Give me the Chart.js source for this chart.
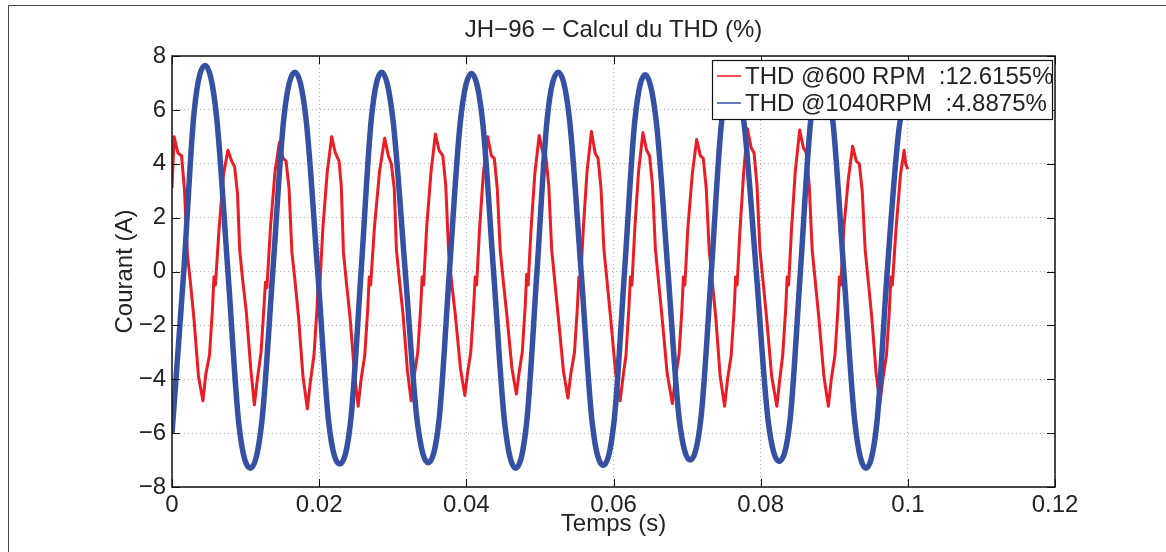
<!DOCTYPE html>
<html>
<head>
<meta charset="utf-8">
<script src="https://cdn.jsdelivr.net/npm/chart.js@4.4.1/dist/chart.umd.min.js"></script>
<style>
  html, body { margin: 0; padding: 0; background: #fff; }
  canvas { display: block; }
</style>
</head>
<body>
<canvas id="thdChart" width="1166" height="552"></canvas>
<script>
const chartTitle = "JH\u221296 \u2212 Calcul du THD (%)";
const xLabel = "Temps (s)";
const yLabel = "Courant (A)";
const xTickValues = [0, 0.02, 0.04, 0.06, 0.08, 0.1, 0.12];
const yTickValues = [-8, -6, -4, -2, 0, 2, 4, 6, 8];
const seriesLabels = ["THD @600 RPM  :12.6155%", "THD @1040RPM  :4.8875%"];

// 600 RPM current (red), time in s / current in A
const redT = [
  0, 0.0003, 0.0008, 0.0013, 0.0017, 0.0021, 0.0025, 0.0030, 0.0036, 0.0042,
  0.0046, 0.0051, 0.0055, 0.0057, 0.0059, 0.0064, 0.0070, 0.0076,
  0.0081, 0.0085, 0.0089, 0.0092, 0.0096, 0.0101, 0.0107, 0.0112,
  0.0116, 0.0121, 0.0125, 0.0127, 0.0129, 0.0134, 0.0140, 0.0146,
  0.0151, 0.0155, 0.0159, 0.0163, 0.0167, 0.0172, 0.0178, 0.0184,
  0.0188, 0.0193, 0.0197, 0.0199, 0.0201, 0.0205, 0.0211, 0.0217,
  0.0222, 0.0227, 0.0230, 0.0233, 0.0237, 0.0242, 0.0248, 0.0253,
  0.0257, 0.0262, 0.0266, 0.0268, 0.0270, 0.0275, 0.0282, 0.0289,
  0.0294, 0.0298, 0.0302, 0.0305, 0.0309, 0.0314, 0.0320, 0.0325,
  0.0329, 0.0334, 0.0338, 0.0340, 0.0342, 0.0346, 0.0352, 0.0358,
  0.0363, 0.0368, 0.0372, 0.0376, 0.0380, 0.0385, 0.0392, 0.0398,
  0.0402, 0.0406, 0.0410, 0.0412, 0.0414, 0.0418, 0.0423, 0.0429,
  0.0434, 0.0438, 0.0442, 0.0446, 0.0450, 0.0455, 0.0462, 0.0468,
  0.0472, 0.0476, 0.0480, 0.0482, 0.0484, 0.0488, 0.0493, 0.0499,
  0.0504, 0.0508, 0.0512, 0.0516, 0.0520, 0.0525, 0.0532, 0.0538,
  0.0542, 0.0547, 0.0551, 0.0553, 0.0555, 0.0559, 0.0564, 0.0570,
  0.0575, 0.0579, 0.0583, 0.0587, 0.0591, 0.0596, 0.0603, 0.0609,
  0.0613, 0.0617, 0.0621, 0.0623, 0.0625, 0.0629, 0.0634, 0.0640,
  0.0645, 0.0649, 0.0653, 0.0657, 0.0661, 0.0666, 0.0673, 0.0680,
  0.0684, 0.0689, 0.0693, 0.0695, 0.0697, 0.0701, 0.0707, 0.0713,
  0.0718, 0.0722, 0.0726, 0.0730, 0.0734, 0.0739, 0.0745, 0.0751,
  0.0755, 0.0760, 0.0764, 0.0766, 0.0768, 0.0772, 0.0777, 0.0782,
  0.0787, 0.0791, 0.0795, 0.0799, 0.0803, 0.0808, 0.0815, 0.0822,
  0.0826, 0.0830, 0.0834, 0.0836, 0.0838, 0.0842, 0.0847, 0.0853,
  0.0858, 0.0862, 0.0866, 0.0870, 0.0874, 0.0879, 0.0886, 0.0892,
  0.0896, 0.0901, 0.0905, 0.0907, 0.0909, 0.0913, 0.0919, 0.0925,
  0.0930, 0.0934, 0.0938, 0.0942, 0.0946, 0.0951, 0.0957, 0.0962,
  0.0966, 0.0971, 0.0975, 0.0977, 0.0979, 0.0984, 0.0990, 0.0995, 0.0997, 0.1000
];
const redV = [
  3.1, 5.0, 4.4, 4.3, 3.0, 0.6, -0.4, -1.8, -3.9, -4.8,
  -3.8, -3.1, -1.4, -0.2, -0.5, 1.6, 3.6, 4.5,
  4.1, 3.9, 2.9, 0.8, -0.3, -1.5, -3.6, -4.95,
  -4.0, -3.0, -1.3, -0.4, -0.6, 1.7, 3.7, 4.8,
  4.2, 4.1, 3.1, 0.7, -0.3, -1.7, -3.9, -5.1,
  -4.1, -3.1, -1.4, -0.2, -0.5, 1.6, 3.7, 5.0,
  4.4, 4.1, 3.2, 0.7, -0.4, -1.7, -3.8, -5.0,
  -4.0, -3.1, -1.4, -0.2, -0.5, 1.6, 3.7, 4.95,
  4.3, 4.0, 3.1, 0.8, -0.3, -1.6, -3.7, -4.8,
  -3.9, -3.0, -1.3, -0.2, -0.5, 1.6, 3.7, 5.1,
  4.5, 4.3, 3.2, 0.7, -0.4, -1.6, -3.6, -4.6,
  -3.7, -3.0, -1.3, -0.2, -0.5, 1.6, 3.6, 5.0,
  4.3, 4.2, 3.1, 0.8, -0.3, -1.6, -3.6, -4.55,
  -3.7, -3.0, -1.3, -0.1, -0.5, 1.6, 3.6, 5.05,
  4.4, 4.3, 3.2, 0.8, -0.3, -1.7, -3.7, -4.7,
  -3.8, -3.0, -1.3, -0.2, -0.5, 1.6, 3.7, 5.2,
  4.4, 4.2, 3.1, 0.8, -0.3, -1.7, -3.8, -4.8,
  -3.9, -3.1, -1.3, -0.2, -0.5, 1.6, 3.7, 5.15,
  4.5, 4.3, 3.2, 0.8, -0.3, -1.7, -3.8, -4.9,
  -4.0, -3.1, -1.4, -0.2, -0.5, 1.6, 3.6, 4.9,
  4.3, 4.2, 3.1, 0.8, -0.3, -1.7, -3.9, -5.0,
  -4.0, -3.1, -1.4, -0.2, -0.5, 1.6, 3.7, 5.3,
  4.6, 4.4, 3.2, 0.8, -0.3, -1.7, -3.9, -5.0,
  -4.0, -3.1, -1.4, -0.2, -0.5, 1.6, 3.7, 5.25,
  4.6, 4.4, 3.2, 0.8, -0.3, -1.7, -3.9, -5.0,
  -4.0, -3.1, -1.4, -0.2, -0.5, 1.6, 3.4, 4.65,
  4.1, 4.0, 3.0, 0.8, -0.3, -1.7, -3.8, -4.9,
  -4.0, -3.1, -1.4, -0.2, -0.5, 1.6, 3.6, 4.5, 4.0, 3.8
];

// 1040 RPM current (blue)
const blueT = [
  0.0000, 0.0016, 0.0030, 0.0045, 0.0060, 0.0076, 0.0091, 0.01065, 0.0122, 0.0137,
  0.0152, 0.0167, 0.0182, 0.0198, 0.0213, 0.0228, 0.0243, 0.0257, 0.0271, 0.0285,
  0.0300, 0.0317, 0.0333, 0.0348, 0.0363, 0.0377, 0.0392, 0.0407, 0.0422, 0.0437,
  0.0452, 0.0467, 0.0482, 0.0496, 0.0510, 0.0525, 0.0540, 0.0556, 0.0571, 0.0586,
  0.0601, 0.0615, 0.0629, 0.0643, 0.0658, 0.0674, 0.0689, 0.0704, 0.0719, 0.0733,
  0.0747, 0.0762, 0.0777, 0.0794, 0.0810, 0.0825, 0.0840, 0.0854, 0.0868, 0.0883,
  0.0898, 0.0913, 0.0928, 0.0943, 0.0958, 0.0972, 0.0988, 0.1000
];
const blueV = [
  -6.0, 0.0, 5.9, 7.65, 5.9, 0.0, -5.7, -7.3, -5.6, 0.0,
  5.7, 7.4, 5.7, 0.0, -5.6, -7.15, -5.5, 0.0, 5.7, 7.4,
  5.7, 0.0, -5.5, -7.1, -5.5, 0.0, 5.6, 7.35, 5.6, 0.0,
  -5.6, -7.3, -5.6, 0.0, 5.7, 7.4, 5.7, 0.0, -5.6, -7.2,
  -5.5, 0.0, 5.6, 7.3, 5.6, 0.0, -5.4, -7.0, -5.4, 0.0,
  5.6, 7.3, 5.6, 0.0, -5.5, -7.05, -5.5, 0.0, 5.6, 7.3,
  5.6, 0.0, -5.6, -7.3, -5.6, 0.0, 5.3, 6.7
];

const redColor = "#ec1c24";
const blueColor = "#3651a3";
const fontFamily = "'Liberation Sans', Arial, Helvetica, sans-serif";
const textColor = "#222";

Chart.defaults.font.family = fontFamily;
Chart.defaults.font.size = 24;
Chart.defaults.color = textColor;

const toPoints = (ts, vs) => ts.map((t, i) => ({ x: t, y: vs[i] }));
const minusSign = v => (v < 0 ? "\u2212" + Math.abs(v) : String(v));

const matlabFrame = {
  id: "matlabFrame",
  afterDraw(chart) {
    const { ctx, chartArea: a, scales } = chart;
    ctx.save();

    // figure border
    ctx.strokeStyle = "#444";
    ctx.lineWidth = 1;
    ctx.beginPath();
    ctx.moveTo(8.5, chart.height);
    ctx.lineTo(8.5, 5.5);
    ctx.lineTo(chart.width, 5.5);
    ctx.stroke();

    // axes box with inward ticks
    ctx.strokeStyle = "#111";
    ctx.lineWidth = 1.5;
    ctx.strokeRect(a.left, a.top, a.right - a.left, a.bottom - a.top);
    ctx.lineWidth = 1;
    ctx.beginPath();
    xTickValues.forEach(v => {
      const px = Math.round(scales.x.getPixelForValue(v)) + 0.5;
      ctx.moveTo(px, a.top); ctx.lineTo(px, a.top + 8);
      ctx.moveTo(px, a.bottom); ctx.lineTo(px, a.bottom - 8);
    });
    yTickValues.forEach(v => {
      const py = Math.round(scales.y.getPixelForValue(v)) + 0.5;
      ctx.moveTo(a.left, py); ctx.lineTo(a.left + 8, py);
      ctx.moveTo(a.right, py); ctx.lineTo(a.right - 8, py);
    });
    ctx.stroke();

    // title
    ctx.fillStyle = textColor;
    ctx.font = "24px " + fontFamily;
    ctx.textAlign = "center";
    ctx.textBaseline = "middle";
    ctx.fillText(chartTitle, (a.left + a.right) / 2, 30);

    // legend box
    const lw = 340, lh = 59;
    const lx = a.right - 3 - lw, ly = a.top + 4;
    ctx.fillStyle = "#fff";
    ctx.fillRect(lx, ly, lw, lh);
    ctx.strokeStyle = "#111";
    ctx.lineWidth = 1.2;
    ctx.strokeRect(lx + 0.5, ly + 0.5, lw, lh);
    const rows = [
      { text: seriesLabels[0], color: redColor },
      { text: seriesLabels[1], color: blueColor }
    ];
    ctx.textAlign = "left";
    rows.forEach((r, i) => {
      const ry = ly + 16 + i * 27;
      ctx.strokeStyle = r.color;
      ctx.lineWidth = 1.5;
      ctx.beginPath();
      ctx.moveTo(lx + 5, ry);
      ctx.lineTo(lx + 29, ry);
      ctx.stroke();
      ctx.fillStyle = textColor;
      ctx.fillText(r.text, lx + 33, ry + 1);
    });
    ctx.restore();
  }
};

new Chart(document.getElementById("thdChart"), {
  type: "line",
  data: {
    datasets: [
      {
        label: seriesLabels[0],
        data: toPoints(redT, redV),
        borderColor: redColor,
        borderWidth: 3,
        borderJoinStyle: "round",
        pointRadius: 0,
        tension: 0,
        order: 1
      },
      {
        label: seriesLabels[1],
        data: toPoints(blueT, blueV),
        borderColor: blueColor,
        borderWidth: 5.5,
        pointRadius: 0,
        cubicInterpolationMode: "monotone",
        order: 0
      }
    ]
  },
  options: {
    responsive: false,
    animation: false,
    layout: { padding: { top: 56, right: 111, left: 0, bottom: 0 } },
    plugins: {
      legend: { display: false },
      title: { display: false },
      tooltip: { enabled: false }
    },
    scales: {
      x: {
        type: "linear",
        min: 0,
        max: 0.12,
        afterBuildTicks: s => { s.ticks = xTickValues.map(v => ({ value: v })); },
        afterFit: s => { s.height = 65; },
        ticks: {
          padding: 4,
          maxRotation: 0,
          autoSkip: false,
          callback: v => String(parseFloat(Number(v).toFixed(2)))
        },
        grid: { color: "#b5b5b5", lineWidth: 1, drawTicks: false },
        border: { display: false, dash: [1, 3] },
        title: { display: true, text: xLabel, padding: { top: 0, bottom: 13 } }
      },
      y: {
        min: -8,
        max: 8,
        afterBuildTicks: s => { s.ticks = yTickValues.map(v => ({ value: v })); },
        afterFit: s => { s.width = 172; },
        ticks: { padding: 6, autoSkip: false, callback: v => minusSign(v) },
        grid: { color: "#b5b5b5", lineWidth: 1, drawTicks: false },
        border: { display: false, dash: [1, 3] },
        title: { display: true, text: yLabel, padding: { top: 111, bottom: 0 } }
      }
    }
  },
  plugins: [matlabFrame]
});
</script>
</body>
</html>
